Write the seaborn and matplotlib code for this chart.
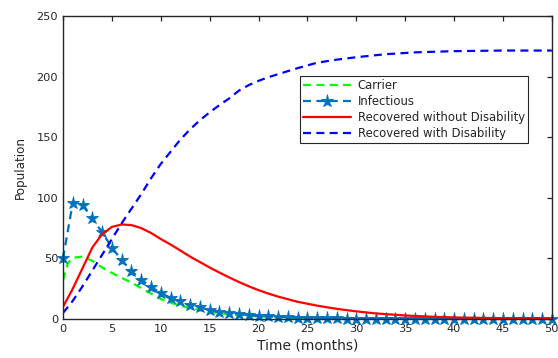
import matplotlib
matplotlib.use("Agg")
import matplotlib.pyplot as plt
import seaborn as sns

# ---- data ----
t_inf = list(range(0, 51))
infectious = [50, 96, 94, 83, 71.5, 59, 48.5, 39.5, 32.5, 26.5, 21.5, 17.5, 14.5, 11.5, 9.5, 7.5,
              6, 5, 4, 3.2, 2.6, 2.1, 1.7, 1.4, 1.1, 0.9, 0.7, 0.6, 0.5, 0.4, 0.3,
              0.25, 0.2, 0.16, 0.13, 0.1, 0.08, 0.07, 0.06, 0.05, 0.04, 0.03, 0.03, 0.02,
              0.02, 0.02, 0.01, 0.01, 0.01, 0.01, 0.01]

t_car = [0, 0.5, 1, 2, 3, 4, 5, 6, 7, 8, 9, 10, 11, 12, 13, 14, 15, 16, 18, 20, 22, 25, 30, 35, 40, 50]
carrier = [32, 46, 50.5, 51.5, 48, 42.5, 38, 34, 30, 25.5, 21, 16.5, 13.5, 11, 9, 7.3, 6, 4.8,
           3.2, 2.1, 1.4, 0.8, 0.3, 0.1, 0.05, 0.01]

t_rec = [0, 1, 2, 3, 4, 5, 6, 7, 8, 9, 10, 11, 12, 13, 14, 15, 16, 17, 18, 19, 20, 21, 22, 24, 26,
         28, 30, 32, 35, 38, 40, 43, 46, 50]
recovered_wo = [10, 25, 42, 59, 70, 76, 78, 77.5, 75, 71, 66, 61.5, 56.5, 51.5, 47, 42.5, 38.3,
                34.3, 30.5, 27, 23.8, 21, 18.5, 14.2, 11, 8.4, 6.3, 4.6, 2.9, 1.8, 1.3, 0.9, 0.6, 0.4]

t_dis = [0, 1, 2, 3, 4, 5, 6, 7, 8, 9, 10, 11, 12, 13, 14, 15, 16, 17, 18, 19, 20, 21, 22, 24, 26,
         28, 30, 33, 36, 40, 45, 50]
recovered_w = [5, 15, 27, 40, 53, 66, 79, 91, 103, 116, 128, 138, 148, 156.5, 164, 170.5, 176.5,
               182, 188.5, 193, 196.5, 199.5, 202, 207, 211.5, 214, 216, 218.5, 220, 221, 221.5, 221.5]

x_ticks = list(range(0, 51, 5))
y_ticks = list(range(0, 251, 50))

sns.set_style("white")
plt.rcParams["font.family"] = ["DejaVu Sans"]

fig = plt.figure(figsize=(5.58, 3.58), dpi=100)
ax = fig.add_axes([0.1129, 0.1089, 0.8761, 0.8464])

dash = (0, (3.6, 2.4))
sns.lineplot(x=t_car, y=carrier, ax=ax, color="#00FF00", linestyle=dash, linewidth=1.6,
             label="Carrier")
sns.lineplot(x=t_inf, y=infectious, ax=ax, color="#0072BD", linestyle=dash, linewidth=1.6,
             marker="*", markersize=9.5, markeredgecolor="#0072BD", markeredgewidth=0.6,
             label="Infectious", clip_on=False)
sns.lineplot(x=t_rec, y=recovered_wo, ax=ax, color="#FF0000", linestyle="-", linewidth=1.6,
             label="Recovered without Disability")
sns.lineplot(x=t_dis, y=recovered_w, ax=ax, color="#0000FF", linestyle=dash, linewidth=1.6,
             label="Recovered with Disability")

ax.set_xlim(0, 50)
ax.set_ylim(0, 250)
ax.set_xticks(x_ticks)
ax.set_yticks(y_ticks)
ax.tick_params(direction="in", length=3.5, width=0.9, top=True, right=True,
               labelsize=8.2, colors="#262626", pad=3.5)
for s in ax.spines.values():
    s.set_visible(True)
    s.set_color("#262626")
    s.set_linewidth(1.0)
ax.set_xlabel("Time (months)", fontsize=10, color="#262626", labelpad=3)
ax.set_ylabel("Population", fontsize=8.6, color="#262626", labelpad=7)

leg = ax.legend(loc="upper left", bbox_to_anchor=(0.4847, 0.803), fontsize=8.4,
                frameon=True, fancybox=False, framealpha=1, edgecolor="#262626",
                handlelength=4.1, handletextpad=0.55, labelspacing=0.25, borderpad=0.3,
                numpoints=1, borderaxespad=0)
leg.get_frame().set_linewidth(0.8)
for txt in leg.get_texts():
    txt.set_color("#262626")

fig.savefig("out.png", dpi=100)
